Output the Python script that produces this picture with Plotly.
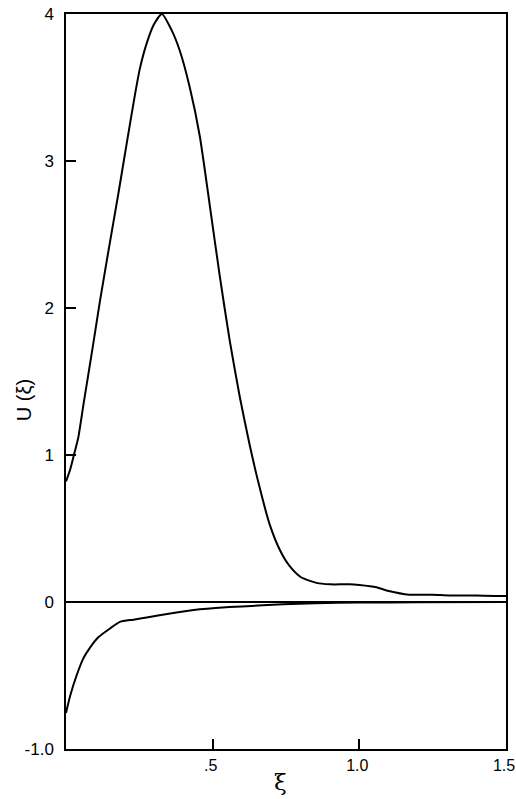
import plotly.graph_objects as go

# Upper curve U(xi)
xi_upper = [0.0, 0.014, 0.027, 0.042, 0.06, 0.09, 0.116, 0.15, 0.177, 0.207, 0.235,
            0.252, 0.275, 0.30, 0.327, 0.36, 0.388, 0.422, 0.456, 0.49, 0.524, 0.558,
            0.592, 0.626, 0.66, 0.694, 0.73, 0.762, 0.80, 0.854, 0.90, 0.966, 1.0,
            1.058, 1.1, 1.17, 1.25, 1.306, 1.4, 1.5]
u_upper = [0.82, 0.90, 1.0, 1.12, 1.35, 1.72, 2.05, 2.45, 2.76, 3.12, 3.45,
           3.63, 3.80, 3.93, 4.0, 3.89, 3.75, 3.50, 3.17, 2.70, 2.22, 1.78,
           1.40, 1.07, 0.78, 0.53, 0.35, 0.245, 0.17, 0.13, 0.12, 0.12, 0.115,
           0.10, 0.075, 0.05, 0.05, 0.045, 0.045, 0.04]

# Lower curve
xi_lower = [0.0, 0.014, 0.036, 0.06, 0.082, 0.11, 0.15, 0.184, 0.23, 0.275, 0.35,
            0.456, 0.51, 0.6, 0.74, 0.85, 1.0, 1.2, 1.5]
u_lower = [-0.755, -0.64, -0.50, -0.38, -0.31, -0.24, -0.18, -0.135, -0.12, -0.105, -0.08,
           -0.05, -0.04, -0.03, -0.015, -0.008, -0.004, -0.002, 0.0]

x_tickvals = [0.5, 1.0, 1.5]
x_ticktext = [".5", "1.0", "1.5"]
y_tickvals = [-1, 0, 1, 2, 3, 4]
y_ticktext = ["-1.0", "0", "1", "2", "3", "4"]

fig = go.Figure()
fig.add_trace(go.Scatter(x=xi_upper, y=u_upper, mode="lines",
                         line=dict(color="black", width=2, shape="spline", smoothing=0.6),
                         showlegend=False))
fig.add_trace(go.Scatter(x=xi_lower, y=u_lower, mode="lines",
                         line=dict(color="black", width=2, shape="spline", smoothing=0.6),
                         showlegend=False))

font = "Liberation Sans, Arial, sans-serif"
fig.update_layout(
    width=516, height=799,
    margin=dict(l=66, r=10, t=14, b=50),
    paper_bgcolor="white", plot_bgcolor="white",
    font=dict(family=font, color="black", size=17),
    xaxis=dict(range=[0, 1.5], showgrid=False, zeroline=False, automargin=False,
               showline=True, linecolor="black", linewidth=1.5, mirror=True,
               ticks="inside", ticklen=10, tickwidth=1.5, tickcolor="black",
               tickvals=x_tickvals, ticktext=x_ticktext,
               tickfont=dict(size=16), ticklabelstandoff=1, ticklabelshift=-2,
               ticklabeloverflow="allow"),
    yaxis=dict(range=[-1, 4], showgrid=False, zeroline=True, zerolinecolor="black",
               zerolinewidth=1.5, automargin=False,
               showline=True, linecolor="black", linewidth=1.5, mirror=True,
               ticks="inside", ticklen=10, tickwidth=1.5, tickcolor="black",
               tickvals=y_tickvals, ticktext=y_ticktext,
               tickfont=dict(size=17), ticklabelstandoff=7,
               ticklabeloverflow="allow"),
    annotations=[
        dict(text="U (ξ)", textangle=-90, xref="paper", yref="paper",
             x=-0.095, y=(749 - 400) / 735, xanchor="center", yanchor="middle",
             showarrow=False, font=dict(size=20, family=font)),
        dict(text="ξ", xref="paper", yref="paper",
             x=(280 - 66) / 440, y=-(782 - 749) / 735, xanchor="center", yanchor="middle",
             showarrow=False, font=dict(size=23, family="DejaVu Serif, serif")),
    ],
)

fig.write_html("out.html", config={"displayModeBar": False},
               post_script="document.body.style.margin='0';document.body.style.overflow='hidden';")
